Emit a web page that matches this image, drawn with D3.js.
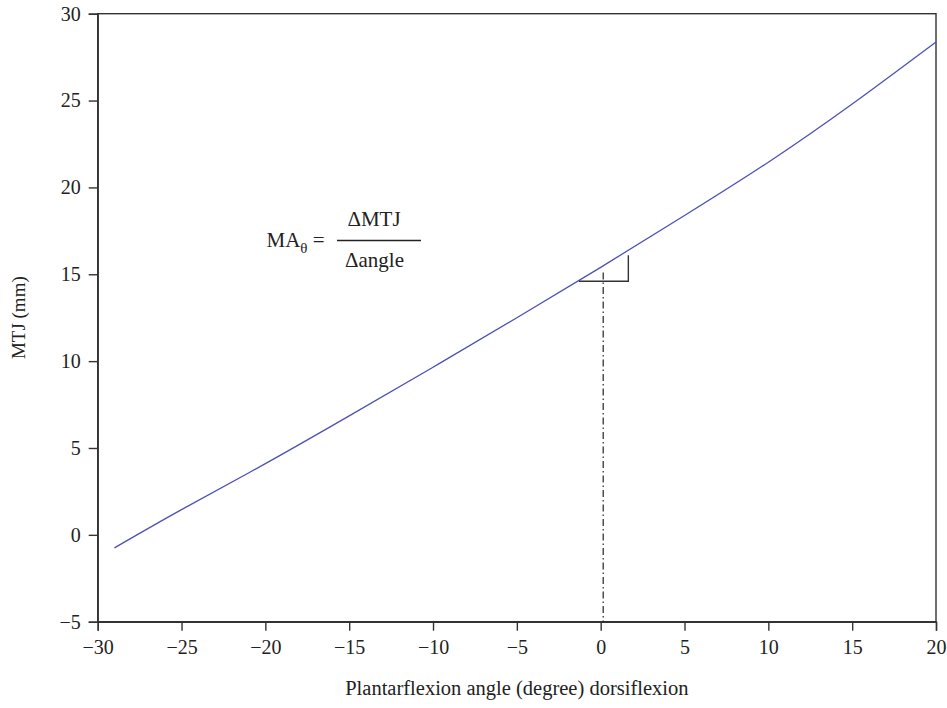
<!DOCTYPE html>
<html><head><meta charset="utf-8">
<script src="https://cdn.jsdelivr.net/npm/d3@7"></script>
<style>body{margin:0;background:#fff}svg{display:block}</style>
</head><body>
<svg id="c" width="947" height="708"></svg>
<script>
const angles = [-29, -25, -20, -15, -10, -5, 0, 5, 10, 15, 20];
const mtj    = [-0.75, 1.45, 4.1, 6.85, 9.65, 12.5, 15.4, 18.38, 21.45, 24.8, 28.37];
const xTicks = [-30, -25, -20, -15, -10, -5, 0, 5, 10, 15, 20];
const yTicks = [-5, 0, 5, 10, 15, 20, 25, 30];
const triX = [-1.3, 1.65];
const triY = [14.6, 16.1];
const dashTop = 15.1;

const svg = d3.select("#c");
const font = "'Liberation Serif', 'DejaVu Serif', serif";
const m = {l: 97.7, r: 936, t: 13.7, b: 621.7};
const x = d3.scaleLinear().domain([-30, 20]).range([m.l, m.r]);
const y = d3.scaleLinear().domain([-5, 30]).range([m.b, m.t]);
const axisColor = "#333";

// frame
svg.append("rect").attr("x", m.l).attr("y", m.t).attr("width", m.r - m.l).attr("height", m.b - m.t)
  .attr("fill", "none").attr("stroke", axisColor).attr("stroke-width", 1.4);

const xa = svg.append("g").attr("transform", `translate(0,${m.b})`)
  .call(d3.axisBottom(x).tickValues(xTicks).tickSize(9).tickPadding(9).tickFormat(d => d < 0 ? "\u2212" + Math.abs(d) : d));
const ya = svg.append("g").attr("transform", `translate(${m.l},0)`)
  .call(d3.axisLeft(y).tickValues(yTicks).tickSize(9).tickPadding(8).tickFormat(d => d < 0 ? "\u2212" + Math.abs(d) : d));
[xa, ya].forEach(g => {
  g.select(".domain").attr("stroke", axisColor).attr("stroke-width", 1.4);
  g.selectAll(".tick line").attr("stroke", axisColor).attr("stroke-width", 1.4);
  g.selectAll(".tick text").attr("fill", "#222").style("font-family", font).style("font-size", "20px");
});

// curve
svg.append("path").datum(angles.map((a, i) => [a, mtj[i]]))
  .attr("fill", "none").attr("stroke", "#4d50b8").attr("stroke-width", 1.3)
  .attr("d", d3.line().x(d => x(d[0])).y(d => y(d[1])).curve(d3.curveNatural));

// dash-dot line at 0
svg.append("line").attr("x1", x(0.15)).attr("x2", x(0.15)).attr("y1", y(dashTop)).attr("y2", y(-5))
  .attr("stroke", "#222").attr("stroke-width", 1.2).attr("stroke-dasharray", "7,3,1.5,3");

// slope triangle
svg.append("path").attr("fill", "none").attr("stroke", "#333").attr("stroke-width", 1.4)
  .attr("d", `M${x(triX[0])},${y(triY[0])}H${x(triX[1])}V${y(triY[1])}`);

// formula
const f = svg.append("g").style("font-family", font).attr("fill", "#222");
const t1 = f.append("text").attr("x", 266.5).attr("y", 247).style("font-size", "21px");
t1.append("tspan").text("MA");
t1.append("tspan").attr("dy", 6).style("font-size", "15px").text("\u03b8");
t1.append("tspan").attr("dy", -6).text(" =");
svg.append("line").attr("x1", 337).attr("x2", 421).attr("y1", 240.5).attr("y2", 240.5)
  .attr("stroke", "#222").attr("stroke-width", 1.4);
f.append("text").attr("x", 374).attr("y", 226).attr("text-anchor", "middle").style("font-size", "21px").text("\u0394MTJ");
f.append("text").attr("x", 374.5).attr("y", 267).attr("text-anchor", "middle").style("font-size", "21px").text("\u0394angle");

// axis titles
svg.append("text").attr("transform", `translate(25,${(m.t + m.b) / 2}) rotate(-90)`)
  .attr("text-anchor", "middle").style("font-family", font).style("font-size", "19px").attr("fill", "#222")
  .text("MTJ (mm)");
svg.append("text").attr("x", (m.l + m.r) / 2).attr("y", 695).attr("text-anchor", "middle")
  .style("font-family", font).style("font-size", "20.5px").attr("fill", "#222")
  .text("Plantarflexion angle (degree) dorsiflexion");
</script>
</body></html>
